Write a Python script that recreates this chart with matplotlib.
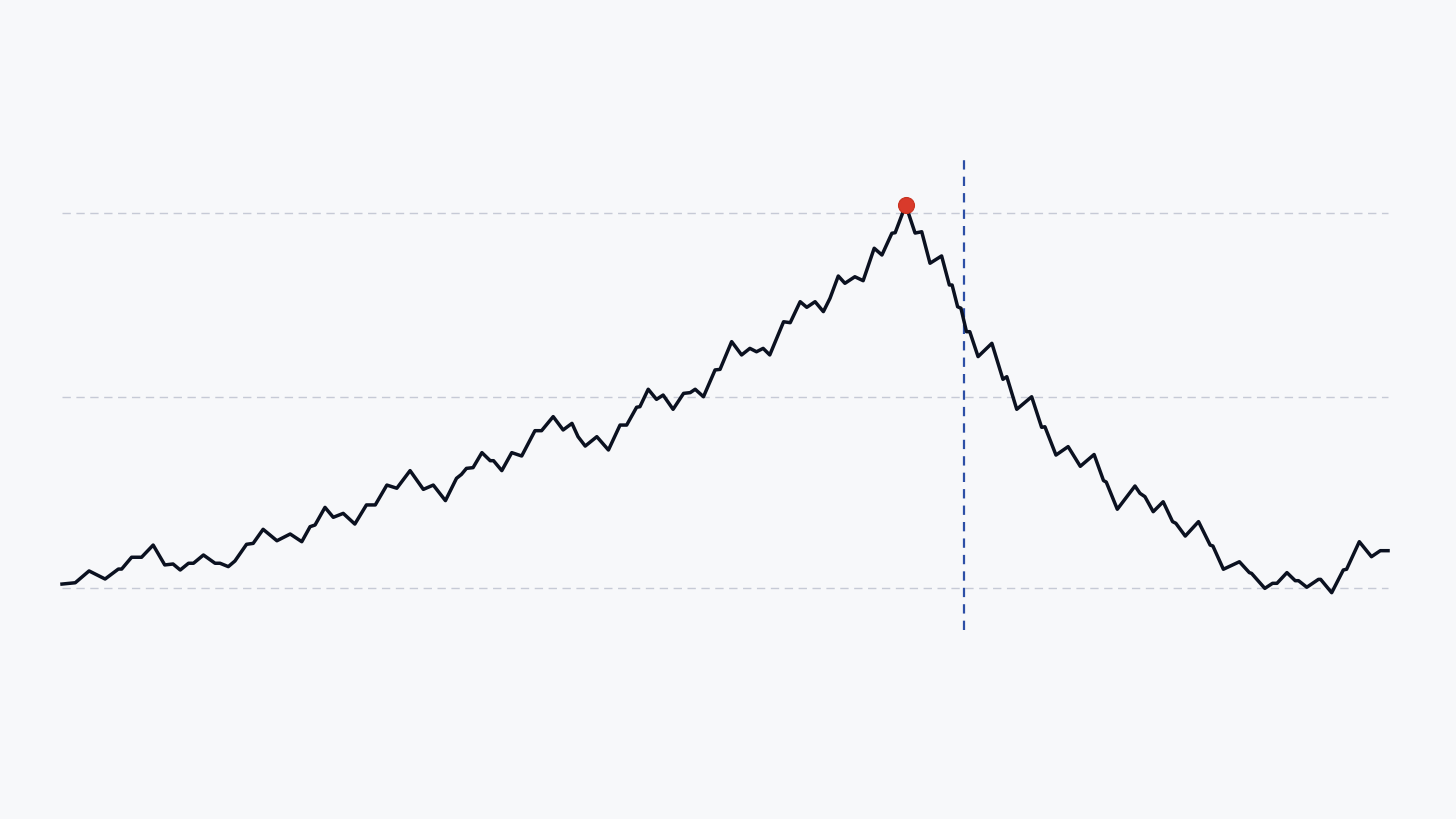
import matplotlib.pyplot as plt
import numpy as np

# Donnees (x : jours, y : valeur)
x = [0, 2.4, 4.9, 7.8, 10.2, 10.8, 12.6, 14.4, 16.5, 18.6, 20.1, 21.4, 22.9, 23.8,
     25.6, 27.7, 28.6, 30.1, 31.3, 33.4, 34.6, 36.4, 38.9, 41.3, 43.4, 44.9, 45.8,
     47.6, 49.1, 50.9, 53.0, 55.1, 56.7, 58.8, 60.6, 63.0, 65.4, 67.2, 69.4, 71.4,
     72.3, 73.2, 74.4, 76.0, 77.5, 78.1, 79.6, 81.4, 83.2, 85.6, 86.8, 88.9, 90.7,
     92.3, 93.4, 94.7, 96.8, 98.9, 101.0, 102.2, 104.0, 104.6, 106.1, 107.6, 108.8,
     110.6, 112.5, 113.7, 114.6, 116.1, 118.2, 119.1, 121.2, 123.0, 124.5, 125.7,
     126.9, 128.1, 130.6, 131.8, 133.6, 134.8, 136.3, 137.8, 139.0, 140.5, 141.7,
     143.5, 145.0, 147.0, 148.4, 150.2, 150.8, 152.7, 154.4, 155.6, 157.1, 159.2,
     160.6, 161.1, 162.1, 162.7, 163.7, 164.3, 165.8, 168.3, 170.3, 171.0, 172.8,
     175.5, 177.3, 177.9, 179.9, 182.1, 184.3, 186.8, 188.5, 189.0, 191.0, 194.2,
     195.1, 196.0, 197.5, 199.3, 201.0, 201.6, 203.3, 205.7, 207.8, 208.3, 210.2,
     213.1, 214.9, 215.3, 217.7, 219.1, 219.9, 221.7, 223.2, 223.8, 225.3, 227.4,
     227.8, 229.8, 231.9, 232.5, 234.8, 237.0, 238.6, 240.0]
y = [2.1, 2.8, 9.1, 4.8, 10.1, 10.1, 16.4, 16.4, 22.9, 12.3, 12.8, 9.6, 13.2, 13.2,
     17.6, 13.2, 13.2, 11.4, 14.4, 23.3, 23.8, 31.3, 25.2, 28.8, 24.7, 32.7, 33.6,
     43.0, 37.7, 39.8, 34.1, 44.3, 44.3, 54.9, 53.2, 62.6, 52.6, 54.9, 46.6, 58.5,
     60.6, 63.8, 64.2, 72.2, 67.9, 67.9, 62.6, 72.2, 70.4, 83.9, 83.9, 91.4, 84.3,
     87.8, 80.7, 75.7, 80.7, 73.6, 86.9, 86.9, 96.4, 96.7, 106.0, 100.6, 102.9,
     95.3, 103.8, 104.2, 106.0, 102.0, 116.3, 116.6, 131.4, 124.3, 127.8, 126.0,
     127.8, 124.3, 142.0, 141.5, 152.7, 149.7, 152.7, 147.4, 154.5, 166.4, 162.5,
     166.0, 163.9, 181.2, 177.6, 189.2, 189.5, 204.3, 189.3, 190.0, 173.2, 177.1,
     161.6, 161.6, 150.0, 149.2, 136.7, 136.7, 123.4, 130.5, 111.3, 112.7, 95.3,
     102.0, 85.7, 86.0, 70.9, 75.4, 64.9, 71.2, 57.3, 56.5, 42.0, 54.4,
     50.5, 48.7, 40.7, 46.0, 35.4, 34.5, 27.7, 35.4, 22.9, 22.4, 10.0,
     14.0, 8.2, 7.8, -0.2, 2.5, 2.5, 8.2, 3.9, 3.9, 0.4, 4.6,
     4.6, -2.5, 9.6, 10.0, 24.7, 16.7, 19.9, 19.9]

niveaux = [0, 101.9, 200]   # lignes horizontales
date_repere = 163.3         # ligne verticale
x = np.array(x)
y = np.array(y)

# Creation du graphique
fig = plt.figure(figsize=(14.56, 8.19), dpi=100)
fig.patch.set_facecolor('#f7f8fa')
ax = fig.add_axes([0, 0, 1, 1])
ax.set_facecolor('#f7f8fa')
ax.set_xlim(-11.22, 252.3)
ax.set_ylim(-123.2, 313.6)
ax.axis('off')

ax.hlines(niveaux, x[0], x[-1], colors='#c6cad6', linewidth=1.0,
          linestyles=(0, (6, 4)), zorder=1)
ax.vlines(date_repere, -22.4, 228.3, colors='#2d4fa6', linewidth=1.6,
          linestyles=(0, (4.2, 3.2)), zorder=2)

ax.plot(x, y, color='#0b1120', linewidth=2.5, solid_joinstyle='round', zorder=3)

i = np.argmax(y)
ax.plot(x[i], y[i], 'o', color='#d93a2b', markersize=11.5,
        markeredgecolor='#c8321f', markeredgewidth=0.8, zorder=4)

fig.savefig('out.png', dpi=100, facecolor=fig.get_facecolor())
